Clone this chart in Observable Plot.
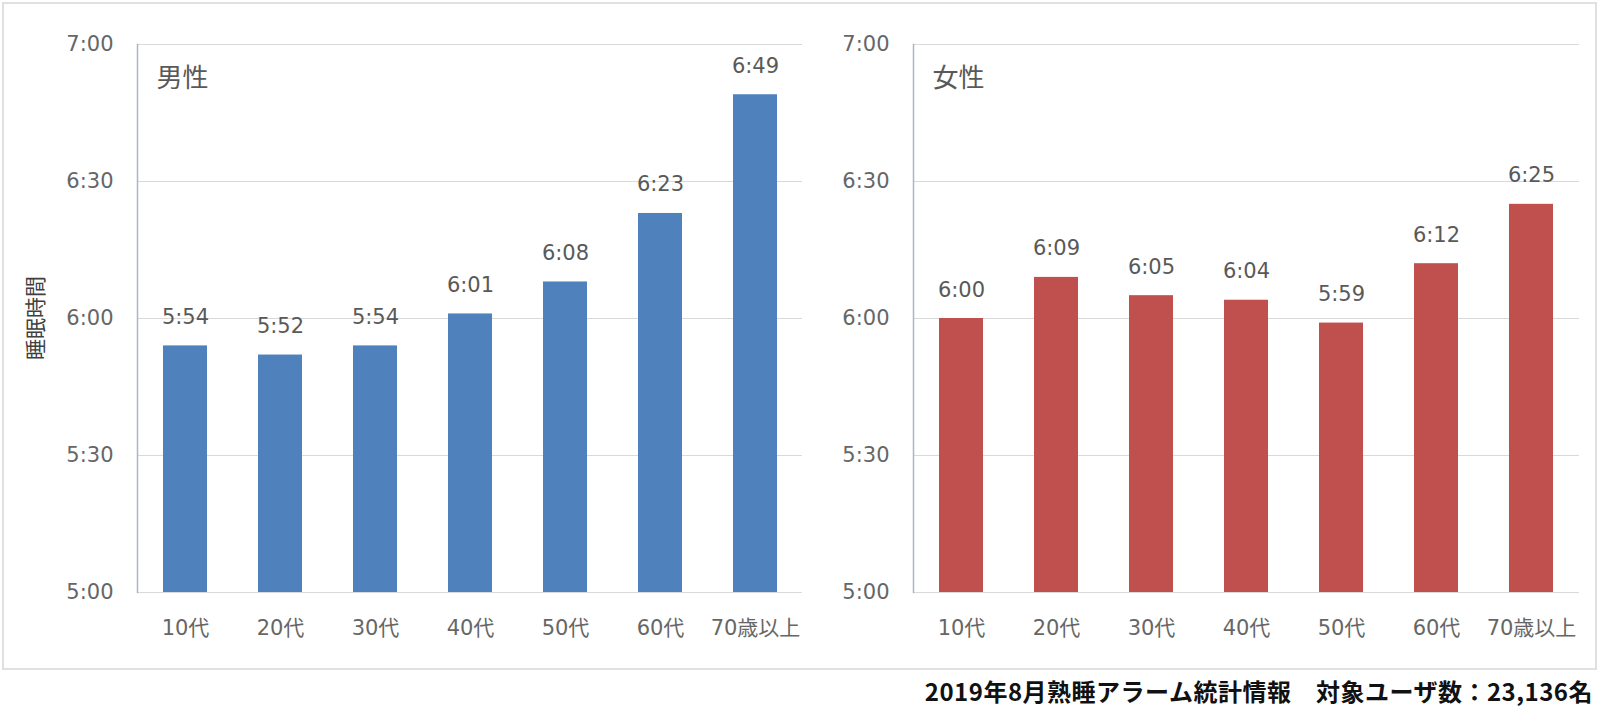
<!DOCTYPE html>
<html><head><meta charset="utf-8">
<script src="https://cdn.jsdelivr.net/npm/d3@7"></script>
<script src="https://cdn.jsdelivr.net/npm/@observablehq/plot@0.6"></script>
<style>
body{margin:0;background:#fff;}
#wrap{position:relative;width:1600px;height:709px;overflow:hidden;font-family:"DejaVu Sans","Noto Sans CJK JP",sans-serif;}
#frame{position:absolute;left:2px;top:2px;width:1595px;height:668px;border:2px solid #e0e0e0;box-sizing:border-box;}
#left{position:absolute;left:0;top:0;}
#right{position:absolute;left:800px;top:0;}
#ytitle{position:absolute;left:34px;top:318px;transform:translate(-50%,-50%) rotate(-90deg);font-size:21px;color:#404040;white-space:nowrap;font-family:"Noto Sans CJK JP",sans-serif;}
#footer{position:absolute;right:7px;top:677px;font-size:24px;letter-spacing:0.5px;font-weight:bold;color:#111;white-space:nowrap;line-height:28px;font-family:"Noto Sans CJK JP",sans-serif;}
</style></head><body>
<div id="wrap"><div id="frame"></div><div id="left"></div><div id="right"></div><div id="ytitle"></div><div id="footer"></div></div>
<script>
const ageGroups = ["10代","20代","30代","40代","50代","60代","70歳以上"];
const maleMinutes = [354, 352, 354, 361, 368, 383, 409];
const femaleMinutes = [360, 369, 365, 364, 359, 372, 385];
const yTicks = [300, 330, 360, 390, 420];
const yDomain = [300, 420];
const panelTitles = ["男性", "女性"];
const barColors = ["#4f81bd", "#c0504d"];
const yTitle = "睡眠時間";
const footerText = "2019年8月熟睡アラーム統計情報　対象ユーザ数：23,136名";

function fmt(m){ return Math.floor(m/60) + ":" + String(Math.round(m%60)).padStart(2,"0"); }

function panel(values, color, title, width, ml, mr){
  const data = ageGroups.map((g,i)=>({g, v: values[i]}));
  return Plot.plot({
    width, height: 660, marginLeft: ml, marginRight: mr, marginTop: 44, marginBottom: 68,
    style: {fontFamily: '"DejaVu Sans","Noto Sans CJK JP",sans-serif', background: "transparent", overflow: "visible"},
    x: {domain: ageGroups, paddingInner: 0.54, paddingOuter: 0.27, axis: null},
    y: {domain: yDomain, axis: null},
    marks: [
      Plot.gridY(yTicks, {stroke: "#d9d9d9", strokeOpacity: 1, strokeWidth: 1.2}),
      Plot.frame({anchor: "left", stroke: "#a7b6c9", strokeWidth: 1.5}),
      Plot.barY(data, {x: "g", y1: yDomain[0], y2: "v", fill: color}),
      Plot.text(data, {x: "g", y: "v", text: d => fmt(d.v), lineAnchor: "bottom", dy: -22, fontSize: 21, fill: "#595959"}),
      Plot.axisY(yTicks, {tickSize: 0, tickPadding: 24, tickFormat: fmt, fontSize: 21, fill: "#666", label: null}),
      Plot.axisX({tickSize: 0, tickPadding: 28, fontSize: 21, fill: "#666", label: null}),
      Plot.text([title], {frameAnchor: "top-left", text: d => d, dx: 19, dy: 24, lineAnchor: "top", textAnchor: "start", fontSize: 26, fill: "#595959"})
    ]
  });
}

document.getElementById("left").appendChild(panel(maleMinutes, barColors[0], panelTitles[0], 820, 137, 18));
document.getElementById("right").appendChild(panel(femaleMinutes, barColors[1], panelTitles[1], 800, 113, 21));
document.getElementById("ytitle").textContent = yTitle;
document.getElementById("footer").textContent = footerText;
</script>
</body></html>
